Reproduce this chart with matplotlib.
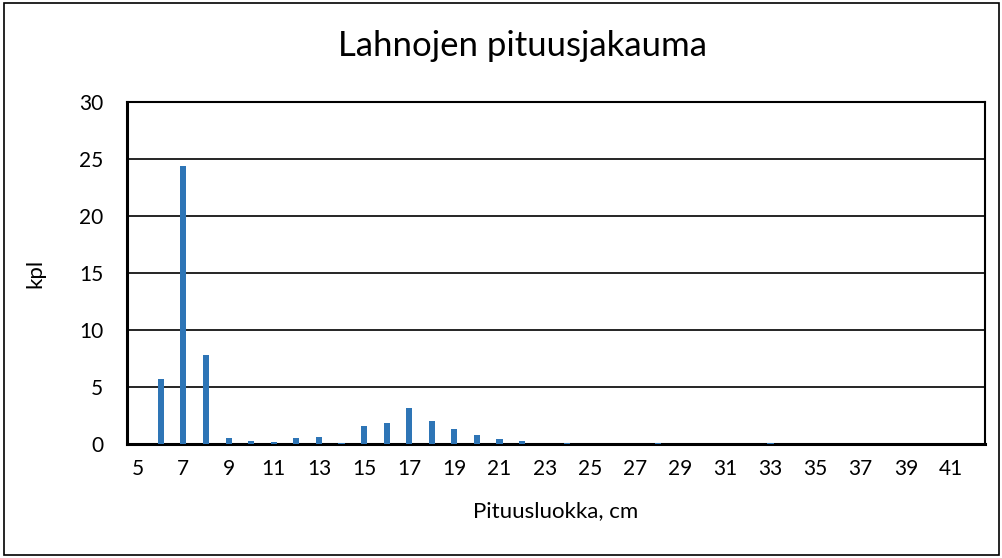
import matplotlib
matplotlib.use("Agg")
import matplotlib.pyplot as plt
from matplotlib.patches import Rectangle

categories = list(range(5, 43))
values = [0, 5.7, 24.4, 7.8, 0.5, 0.25, 0.2, 0.5, 0.6, 0.1,
          1.55, 1.85, 3.2, 2.0, 1.3, 0.8, 0.45, 0.25, 0, 0.1,
          0, 0, 0, 0.05, 0, 0, 0, 0, 0.05, 0,
          0, 0, 0, 0, 0, 0, 0, 0]
tick_labels = [str(c) for c in categories[::2]]

plt.rcParams['font.family'] = ['Lato', 'DejaVu Sans']

fig = plt.figure(figsize=(10.03, 5.58), dpi=100)
ax = fig.add_axes([0.1266, 0.2043, 0.8554, 0.613])

x = list(range(len(categories)))
ax.bar(x, values, width=0.27, color='#2E75B6', zorder=3)
ax.set_xlim(-0.5, len(categories) - 0.5)
ax.set_ylim(0, 30)
ax.set_yticks([0, 5, 10, 15, 20, 25, 30])
ax.set_xticks(x[::2])
ax.set_xticklabels(tick_labels)
ax.tick_params(axis='both', length=0, labelsize=15)
ax.tick_params(axis='x', pad=11)
ax.tick_params(axis='y', pad=17)
ax.yaxis.grid(True, color='black', linewidth=1.2, zorder=0)
for s in ax.spines.values():
    s.set_color('black')
    s.set_linewidth(1.5)
ax.spines['bottom'].set_linewidth(2.2)
ax.spines['left'].set_linewidth(2.2)

fig.text(0.521, 0.918, 'Lahnojen pituusjakauma', ha='center', va='center', fontsize=25)
ax.set_xlabel('Pituusluokka, cm', fontsize=16, labelpad=16)
ax.set_ylabel('kpl', fontsize=16, labelpad=24)

fig.add_artist(Rectangle((0.004, 0.005), 0.992, 0.99, transform=fig.transFigure,
                         fill=False, edgecolor='black', linewidth=1.2))

fig.savefig('out.png', dpi=100)
